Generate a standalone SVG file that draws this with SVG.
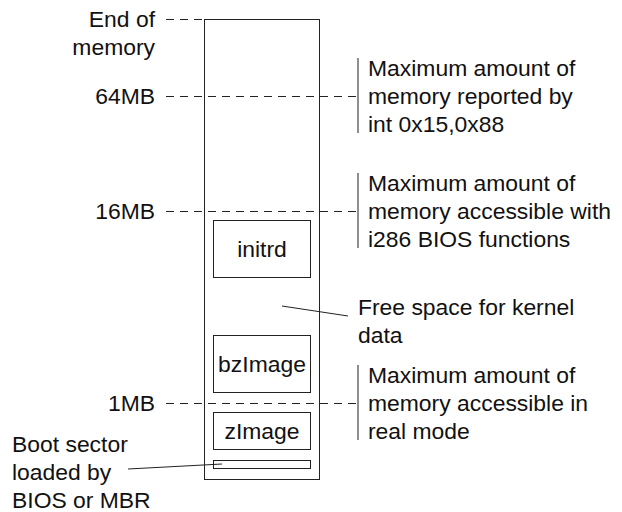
<svg xmlns="http://www.w3.org/2000/svg" width="622" height="512" viewBox="0 0 622 512">
<style>
  text { font-family: "Liberation Sans", Arial, sans-serif; font-size: 22.9px; fill: #111; }
  .l { text-anchor: end; }
  .c { text-anchor: middle; }
  .box { fill: none; stroke: #222; stroke-width: 1; }
  .dash { stroke: #222; stroke-width: 1; stroke-dasharray: 8 6; fill: none; }
  .bar { stroke: #444; stroke-width: 1.2; fill: none; }
  .ln { stroke: #222; stroke-width: 1; fill: none; }
</style>
<rect width="622" height="512" fill="#fff"/>
<g id="connectors">
  <line class="dash" x1="166" y1="19.5" x2="204" y2="19.5"/>
  <line class="dash" x1="166" y1="96.5" x2="358" y2="96.5"/>
  <line class="dash" x1="166" y1="211.5" x2="358" y2="211.5"/>
  <line class="dash" x1="166" y1="403.5" x2="358" y2="403.5"/>
  <line class="bar" x1="358" y1="58" x2="358" y2="133"/>
  <line class="bar" x1="358" y1="173" x2="358" y2="248"/>
  <line class="bar" x1="358" y1="365" x2="358" y2="440"/>
  <line class="ln" x1="282" y1="306" x2="348" y2="316"/>
  <line class="ln" x1="128" y1="469" x2="222" y2="464"/>
</g>
<g id="memory">
  <rect class="box" x="204.5" y="19.5" width="115" height="460"/>
</g>
<g id="initrd">
  <rect class="box" x="213.5" y="220.5" width="97" height="57"/>
  <text class="c" x="262" y="257">initrd</text>
</g>
<g id="bzImage">
  <rect class="box" x="213.5" y="335.5" width="97" height="57"/>
  <text class="c" x="262" y="372">bzImage</text>
</g>
<g id="zImage">
  <rect class="box" x="213.5" y="412.5" width="97" height="37"/>
  <text class="c" x="262" y="439">zImage</text>
</g>
<g id="bootsector">
  <rect class="box" x="213.5" y="460.5" width="97" height="8"/>
</g>
<g id="labels-left">
  <text class="l" x="155" y="27">End of</text>
  <text class="l" x="155" y="55">memory</text>
  <text class="l" x="155" y="104">64MB</text>
  <text class="l" x="155" y="219">16MB</text>
  <text class="l" x="155" y="411">1MB</text>
  <text x="12" y="452">Boot sector</text>
  <text x="12" y="480">loaded by</text>
  <text x="12" y="508">BIOS or MBR</text>
</g>
<g id="labels-right">
  <text x="368" y="76">Maximum amount of</text>
  <text x="368" y="104">memory reported by</text>
  <text x="368" y="132">int 0x15,0x88</text>
  <text x="368" y="191">Maximum amount of</text>
  <text x="368" y="219">memory accessible with</text>
  <text x="368" y="247">i286 BIOS functions</text>
  <text x="358" y="315">Free space for kernel</text>
  <text x="358" y="343">data</text>
  <text x="368" y="383">Maximum amount of</text>
  <text x="368" y="411">memory accessible in</text>
  <text x="368" y="439">real mode</text>
</g>
</svg>
